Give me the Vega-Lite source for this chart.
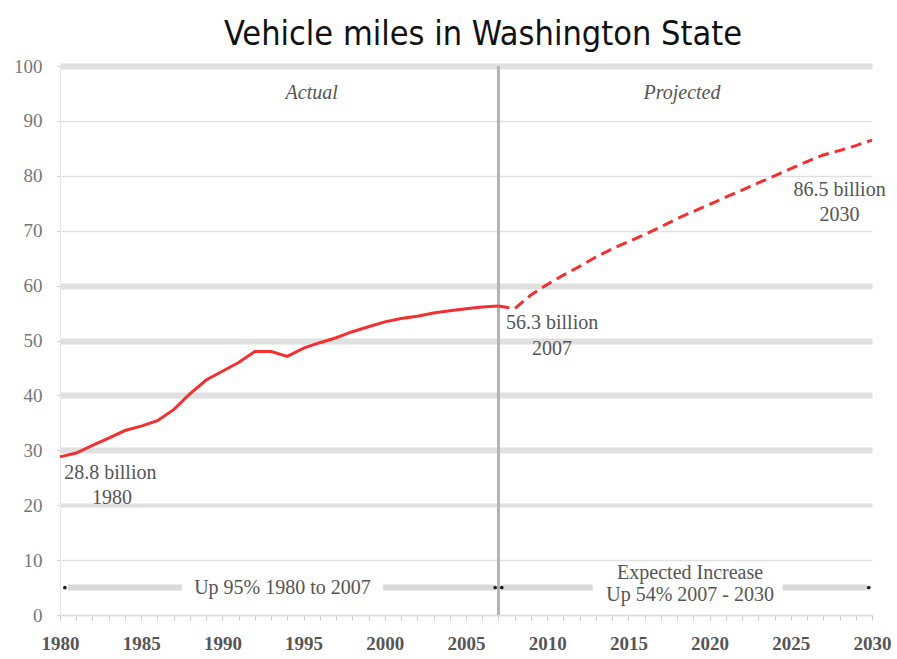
{
  "$schema": "https://vega.github.io/schema/vega-lite/v6.json",
  "width": 812,
  "height": 549,
  "autosize": "none",
  "padding": {"left": 60, "top": 66, "right": 25, "bottom": 44},
  "background": "white",
  "title": {
    "text": "Vehicle miles in Washington State",
    "font": "DejaVu Sans Condensed, sans-serif",
    "fontSize": 34,
    "fontWeight": "normal",
    "color": "#111111",
    "anchor": "middle",
    "dx": 17,
    "offset": 5
  },
  "config": {
    "view": {"stroke": null},
    "text": {"font": "Liberation Serif", "fontSize": 20, "color": "#555555"}
  },
  "datasets": {
    "vmt": [
      {"year": 1980, "value": 28.8, "series": "Actual"},
      {"year": 1981, "value": 29.5, "series": "Actual"},
      {"year": 1982, "value": 30.9, "series": "Actual"},
      {"year": 1983, "value": 32.2, "series": "Actual"},
      {"year": 1984, "value": 33.6, "series": "Actual"},
      {"year": 1985, "value": 34.4, "series": "Actual"},
      {"year": 1986, "value": 35.4, "series": "Actual"},
      {"year": 1987, "value": 37.4, "series": "Actual"},
      {"year": 1988, "value": 40.3, "series": "Actual"},
      {"year": 1989, "value": 42.8, "series": "Actual"},
      {"year": 1990, "value": 44.4, "series": "Actual"},
      {"year": 1991, "value": 46.0, "series": "Actual"},
      {"year": 1992, "value": 48.0, "series": "Actual"},
      {"year": 1993, "value": 48.0, "series": "Actual"},
      {"year": 1994, "value": 47.1, "series": "Actual"},
      {"year": 1995, "value": 48.6, "series": "Actual"},
      {"year": 1996, "value": 49.6, "series": "Actual"},
      {"year": 1997, "value": 50.5, "series": "Actual"},
      {"year": 1998, "value": 51.6, "series": "Actual"},
      {"year": 1999, "value": 52.5, "series": "Actual"},
      {"year": 2000, "value": 53.4, "series": "Actual"},
      {"year": 2001, "value": 54.0, "series": "Actual"},
      {"year": 2002, "value": 54.4, "series": "Actual"},
      {"year": 2003, "value": 55.0, "series": "Actual"},
      {"year": 2004, "value": 55.4, "series": "Actual"},
      {"year": 2005, "value": 55.8, "series": "Actual"},
      {"year": 2006, "value": 56.1, "series": "Actual"},
      {"year": 2007, "value": 56.3, "series": "Actual"},
      {"year": 2007, "value": 56.3, "series": "Projected"},
      {"year": 2008, "value": 55.8, "series": "Projected"},
      {"year": 2009, "value": 58.3, "series": "Projected"},
      {"year": 2010, "value": 60.2, "series": "Projected"},
      {"year": 2011, "value": 61.9, "series": "Projected"},
      {"year": 2012, "value": 63.5, "series": "Projected"},
      {"year": 2013, "value": 65.2, "series": "Projected"},
      {"year": 2014, "value": 66.7, "series": "Projected"},
      {"year": 2015, "value": 68.0, "series": "Projected"},
      {"year": 2016, "value": 69.3, "series": "Projected"},
      {"year": 2017, "value": 70.7, "series": "Projected"},
      {"year": 2018, "value": 72.2, "series": "Projected"},
      {"year": 2019, "value": 73.5, "series": "Projected"},
      {"year": 2020, "value": 74.8, "series": "Projected"},
      {"year": 2021, "value": 76.1, "series": "Projected"},
      {"year": 2022, "value": 77.4, "series": "Projected"},
      {"year": 2023, "value": 78.7, "series": "Projected"},
      {"year": 2024, "value": 80.0, "series": "Projected"},
      {"year": 2025, "value": 81.3, "series": "Projected"},
      {"year": 2026, "value": 82.6, "series": "Projected"},
      {"year": 2027, "value": 83.8, "series": "Projected"},
      {"year": 2028, "value": 84.6, "series": "Projected"},
      {"year": 2029, "value": 85.5, "series": "Projected"},
      {"year": 2030, "value": 86.5, "series": "Projected"}
    ],
    "divider": [{"year": 2007, "value": 0, "high": 100}],
    "spans": [
      {"year": 1980.5, "to": 1987.5, "value": 5},
      {"year": 1999.9, "to": 2006.8, "value": 5},
      {"year": 2007.2, "to": 2012.8, "value": 5},
      {"year": 2024.5, "to": 2029.7, "value": 5}
    ],
    "ends": [
      {"year": 1980.3, "value": 5},
      {"year": 2006.8, "value": 5},
      {"year": 2007.2, "value": 5},
      {"year": 2029.8, "value": 5}
    ],
    "periods": [
      {"year": 1995.5, "value": 95.1, "label": "Actual"},
      {"year": 2018.3, "value": 95.1, "label": "Projected"}
    ],
    "callouts": [
      {"year": 1983.1, "value": 25.9, "label": "28.8 billion"},
      {"year": 1983.2, "value": 21.3, "label": "1980"},
      {"year": 2010.3, "value": 53.2, "label": "56.3 billion"},
      {"year": 2010.3, "value": 48.4, "label": "2007"},
      {"year": 2028.0, "value": 77.4, "label": "86.5 billion"},
      {"year": 2028.0, "value": 72.9, "label": "2030"},
      {"year": 1993.7, "value": 5.0, "label": "Up 95% 1980 to 2007"},
      {"year": 2018.8, "value": 7.7, "label": "Expected Increase"},
      {"year": 2018.8, "value": 3.6, "label": "Up 54% 2007 - 2030"}
    ]
  },
  "encoding": {
    "x": {
      "field": "year", "type": "quantitative",
      "scale": {"domain": [1980, 2030], "nice": false, "zero": false},
      "axis": {
        "title": null,
        "values": [1980,1981,1982,1983,1984,1985,1986,1987,1988,1989,1990,1991,1992,1993,1994,1995,1996,1997,1998,1999,2000,2001,2002,2003,2004,2005,2006,2007,2008,2009,2010,2011,2012,2013,2014,2015,2016,2017,2018,2019,2020,2021,2022,2023,2024,2025,2026,2027,2028,2029,2030],
        "format": "d",
        "labelExpr": "datum.value % 5 == 0 ? datum.label : ''",
        "labelFont": "Liberation Serif",
        "labelFontSize": 19,
        "labelFontWeight": "bold",
        "labelColor": "#555555",
        "labelPadding": 14,
        "labelOverlap": false,
        "labelFlush": false,
        "grid": false,
        "domainColor": "#dddddd",
        "domainWidth": 1.5,
        "tickColor": "#cccccc",
        "tickSize": 5,
        "tickWidth": 1
      }
    },
    "y": {
      "field": "value", "type": "quantitative",
      "scale": {"domain": [0, 100], "nice": false},
      "axis": {
        "title": null,
        "values": [0,10,20,30,40,50,60,70,80,90,100],
        "labelFont": "Liberation Serif",
        "labelFontSize": 19,
        "labelColor": "#777777",
        "labelPadding": 15,
        "grid": true,
        "gridColor": "#e0e0e0",
        "gridWidth": {"condition": [{"test": "indexof([30,40,50,60,100], datum.value) >= 0", "value": 6}, {"test": "datum.value == 20", "value": 4}], "value": 1.5},
        "domainColor": "#e6e6e6",
        "tickColor": "#cccccc",
        "tickSize": 3
      }
    }
  },
  "layer": [
    {
      "data": {"name": "divider"},
      "mark": {"type": "rule", "color": "#b4b4b4", "strokeWidth": 3},
      "encoding": {"y2": {"field": "high"}}
    },
    {
      "data": {"name": "spans"},
      "mark": {"type": "rule", "color": "#d9d9d9", "strokeWidth": 6},
      "encoding": {"x2": {"field": "to"}}
    },
    {
      "data": {"name": "ends"},
      "mark": {"type": "point", "filled": true, "color": "#222222", "size": 14, "opacity": 1},
      "encoding": {}
    },
    {
      "data": {"name": "vmt"},
      "transform": [{"filter": "datum.series == 'Actual'"}],
      "mark": {"type": "line", "color": "#f23030", "strokeWidth": 3},
      "encoding": {}
    },
    {
      "data": {"name": "vmt"},
      "transform": [{"filter": "datum.series == 'Projected'"}],
      "mark": {"type": "line", "color": "#f23030", "strokeWidth": 3, "strokeDash": [11, 6]},
      "encoding": {}
    },
    {
      "data": {"name": "periods"},
      "mark": {"type": "text", "fontStyle": "italic", "fontSize": 20, "color": "#555555"},
      "encoding": {"text": {"field": "label"}}
    },
    {
      "data": {"name": "callouts"},
      "mark": {"type": "text", "fontSize": 20, "color": "#555555"},
      "encoding": {"text": {"field": "label"}}
    }
  ]
}
